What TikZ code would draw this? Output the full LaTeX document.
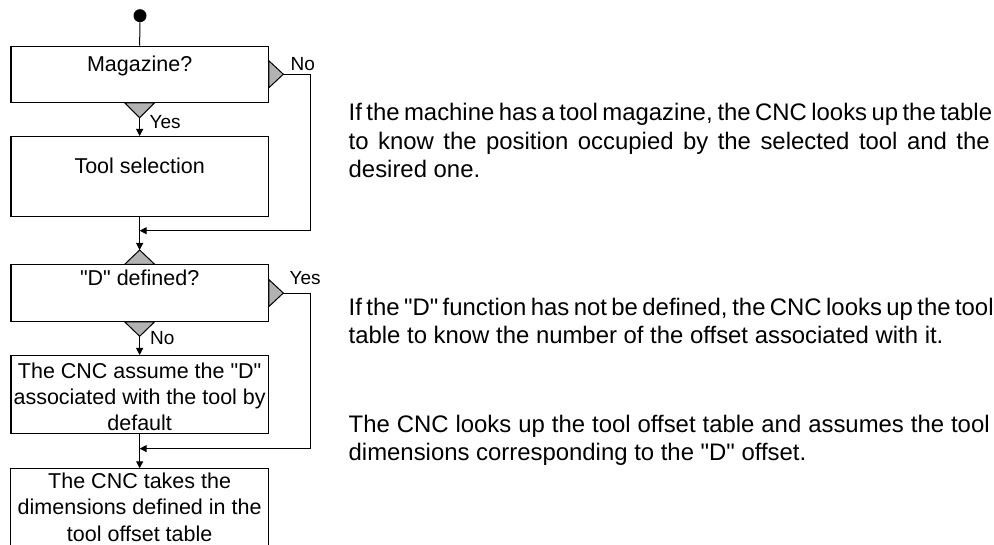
\documentclass[tikz,border=0pt]{standalone}
\usepackage{fontspec}
\setmainfont{Liberation Sans}[Ligatures=TeXOff]
\usetikzlibrary{arrows.meta,calc}
\definecolor{trifill}{RGB}{178,178,178}
\newcommand\boxtxt[4]{\parbox[c][#1pt][t]{257.3pt}{\centering\fontsize{21.5}{#3pt}\selectfont\rule{0pt}{#2pt}#4}}
\newcommand\paratxt[1]{\parbox[t]{641pt}{\fontsize{23.9}{28.3}\selectfont\rule{0pt}{20pt}#1}}
\newcommand\jline[1]{\makebox[641pt][s]{#1}}
\begin{document}
\begin{tikzpicture}[x=1pt,y=-1pt,
  flowbox/.style={draw=black, line width=1.1pt, inner sep=0pt, anchor=north},
  plainbox/.style={inner sep=0pt, anchor=north},
  boxline/.style={draw=black, line width=1.1pt},
  conn/.style={draw=black, line width=1pt},
  arr/.style={conn, -{Triangle[length=7pt,width=7pt]}},
  tri/.style={fill=trifill, draw=black, line width=1pt, line join=miter},
  lbl/.style={inner sep=0pt, anchor=base west, font=\fontsize{19}{22}\selectfont},
  para/.style={inner sep=0pt, anchor=north west}]
\useasboundingbox (0,0) rectangle (994,545);

% start dot
\node[circle, fill=black, inner sep=0pt, minimum size=13pt] (start) at (140,15.7) {};

% boxes
\node[flowbox] (b1) at (139.65,45.7) {\boxtxt{56}{25}{26.7}{Magazine?}};
\node[flowbox] (b2) at (139.65,136) {\boxtxt{79.7}{36.7}{26.7}{Tool selection}};
\node[flowbox] (b3) at (139.65,264.3) {\boxtxt{56.4}{20.7}{26.7}{"D" defined?}};
\node[flowbox] (b4) at (139.65,355) {\boxtxt{78.3}{22.8}{26.2}{The CNC assume the "D"\\ associated with the tool by\\ default}};
\node[plainbox] (b5) at (139.65,468.3) {\boxtxt{76.7}{20.2}{26.2}{The CNC takes the\\ dimensions defined in the\\ tool offset table}};
\draw[boxline] (b5.south west) -- (b5.north west) -- (b5.north east) -- (b5.south east);

% decision triangles
\draw[tri] ($(b1.south)+(-15,0)$) -- ($(b1.south)+(15,0)$) -- ($(b1.south)+(0,15)$) -- cycle;
\coordinate (y1) at ($(b1.south)+(0,15)$);
\draw[tri] ($(b1.east)+(0,-13.5)$) -- ($(b1.east)+(14.5,0)$) -- ($(b1.east)+(0,13.5)$) -- cycle;
\coordinate (n1) at ($(b1.east)+(14.5,0)$);

\draw[tri] ($(b3.north)+(-15,0)$) -- ($(b3.north)+(15,0)$) -- ($(b3.north)+(0,-14.3)$) -- cycle;
\coordinate (t3) at ($(b3.north)+(0,-14.3)$);
\draw[tri] ($(b3.south)+(-15,0)$) -- ($(b3.south)+(15,0)$) -- ($(b3.south)+(0,14.5)$) -- cycle;
\coordinate (y3) at ($(b3.south)+(0,14.5)$);
\draw[tri] ($(b3.east)+(0,-13.5)$) -- ($(b3.east)+(14.5,0)$) -- ($(b3.east)+(0,13.5)$) -- cycle;
\coordinate (n3) at ($(b3.east)+(14.5,0)$);

% connectors
\coordinate (c1) at ($(n1)+(27.5,0)$);
\coordinate (j1) at (139.65,230.7);
\coordinate (c3) at ($(n3)+(27.5,0)$);
\coordinate (j3) at (139.65,448.6);

\draw[conn] (start) -- (b1.north);
\draw[arr] (y1) -- (b2.north);
\draw[arr] (n1) -- (c1) |- (j1);
\draw[arr] (b2.south) -- (t3);
\draw[arr] (y3) -- (b4.north);
\draw[arr] (n3) -- (c3) |- (j3);
\draw[arr] (b4.south) -- (b5.north);

% labels
\node[lbl] (lno1) at (290.5,70.7) {No};
\node[lbl] (lyes1) at (149.5,128.3) {Yes};
\node[lbl] (lyes3) at (289.5,285) {Yes};
\node[lbl] (lno3) at (150,345) {No};

% explanations
\node[para] (p1) at (348.5,100.7) {\paratxt{\jline{If the machine has a tool magazine, the CNC looks up the table}\\\jline{to know the position occupied by the selected tool and the}\\desired one.}};
\node[para] (p2) at (348.5,295) {\paratxt{\jline{If the "D" function has not be defined, the CNC looks up the tool}\\table to know the number of the offset associated with it.}};
\node[para] (p3) at (348.5,412.4) {\paratxt{\jline{The CNC looks up the tool offset table and assumes the tool}\\dimensions corresponding to the "D" offset.}};
\end{tikzpicture}
\end{document}
